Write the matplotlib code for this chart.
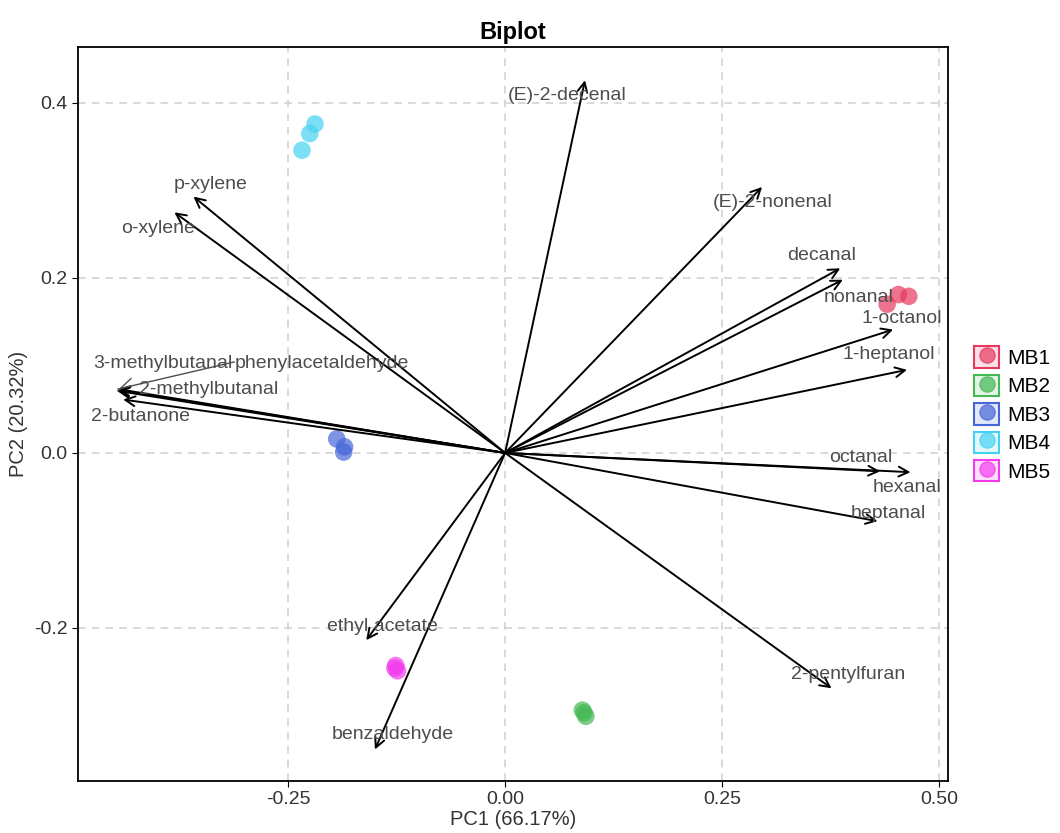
import matplotlib.pyplot as plt
from matplotlib.patches import Patch
from matplotlib.lines import Line2D
from matplotlib.legend_handler import HandlerTuple

plt.rcParams['font.family'] = ['Liberation Sans', 'DejaVu Sans']

# loadings (arrow tips)
var_names = ["(E)-2-decenal", "(E)-2-nonenal", "decanal", "nonanal", "1-octanol",
             "1-heptanol", "octanal", "hexanal", "heptanal", "2-pentylfuran",
             "benzaldehyde", "ethyl acetate", "2-butanone", "2-methylbutanal",
             "3-methylbutanal", "phenylacetaldehyde", "p-xylene", "o-xylene"]
load_x = [0.092, 0.296, 0.386, 0.389, 0.447, 0.463, 0.432, 0.467, 0.429, 0.376,
          -0.150, -0.160, -0.440, -0.446, -0.447, -0.446, -0.359, -0.381]
load_y = [0.426, 0.304, 0.211, 0.198, 0.141, 0.095, -0.021, -0.022, -0.078, -0.269,
          -0.339, -0.214, 0.061, 0.072, 0.071, 0.073, 0.293, 0.275]
# label positions
lab_x = [0.071, 0.308, 0.364, 0.407, 0.457, 0.442, 0.410, 0.463, 0.441, 0.395,
         -0.130, -0.141, -0.420, -0.342, -0.394, -0.211, -0.339, -0.400]
lab_y = [0.409, 0.286, 0.226, 0.178, 0.154, 0.112, -0.005, -0.040, -0.069, -0.253,
         -0.322, -0.198, 0.042, 0.073, 0.102, 0.102, 0.307, 0.256]

# scores
groups = ["MB1", "MB2", "MB3", "MB4", "MB5"]
colors = ["#E8385E", "#45B855", "#4666D8", "#45D2F2", "#F23CEC"]
pc1 = [[0.440, 0.453, 0.465],
       [0.089, 0.091, 0.093],
       [-0.194, -0.185, -0.186],
       [-0.219, -0.225, -0.234],
       [-0.126, -0.124, -0.127]]
pc2 = [[0.170, 0.181, 0.179],
       [-0.294, -0.297, -0.301],
       [0.016, 0.007, 0.001],
       [0.376, 0.365, 0.346],
       [-0.243, -0.249, -0.246]]

fig = plt.figure(figsize=(10.6, 8.33), dpi=100)
ax = fig.add_axes([0.0736, 0.0624, 0.8206, 0.8812])

for i in range(len(groups)):
    ax.scatter(pc1[i], pc2[i], s=160, color=colors[i], alpha=0.7, edgecolors='none', zorder=3)

for i in range(len(var_names)):
    ax.annotate("", xy=(load_x[i], load_y[i]), xytext=(0, 0),
                arrowprops=dict(arrowstyle="->,head_length=0.7,head_width=0.35",
                                color="black", lw=1.4, shrinkA=0, shrinkB=0), zorder=4)
    ax.text(lab_x[i], lab_y[i], var_names[i], ha='center', va='center',
            fontsize=14, color="#4D4D4D", zorder=5)

# repel segments for the crowded labels
ax.plot([-0.431, -0.446], [0.085, 0.071], color="#4D4D4D", lw=1, zorder=5)
ax.plot([-0.312, -0.446], [0.104, 0.073], color="#4D4D4D", lw=1, zorder=5)

ax.set_xlim(-0.492, 0.510)
ax.set_ylim(-0.375, 0.464)
ax.set_xticks([-0.25, 0.0, 0.25, 0.5])
ax.set_xticklabels(["-0.25", "0.00", "0.25", "0.50"])
ax.set_yticks([-0.2, 0.0, 0.2, 0.4])
ax.set_yticklabels(["-0.2", "0.0", "0.2", "0.4"])
ax.grid(True, linestyle=(0, (5, 4)), color="#D0D0D0", lw=1.1)
ax.set_axisbelow(True)
for s in ax.spines.values():
    s.set_linewidth(1.3)
ax.tick_params(labelsize=14, labelcolor="#333333", length=4)
ax.set_xlabel("PC1 (66.17%)", fontsize=14.5, color="#333333", labelpad=1)
ax.set_ylabel("PC2 (20.32%)", fontsize=14.5, color="#333333", labelpad=4)
ax.set_title("Biplot", fontsize=17, fontweight='bold', pad=6)

handles = []
for c in colors:
    box = Patch(facecolor=c, alpha=0.15, edgecolor='none')
    edge = Patch(facecolor='none', edgecolor=c, lw=1.5)
    dot = Line2D([], [], marker='o', color=c, alpha=0.7, markersize=11, ls='none')
    handles.append((box, edge, dot))
fig.legend(handles, groups, handler_map={tuple: HandlerTuple(ndivide=1, pad=0)},
           loc='center left', bbox_to_anchor=(0.919, 0.503), frameon=False,
           fontsize=15, handlelength=1.2, handleheight=1.2, labelspacing=0.32,
           handletextpad=0.4, borderaxespad=0, borderpad=0)

fig.savefig("out.png", dpi=100)
